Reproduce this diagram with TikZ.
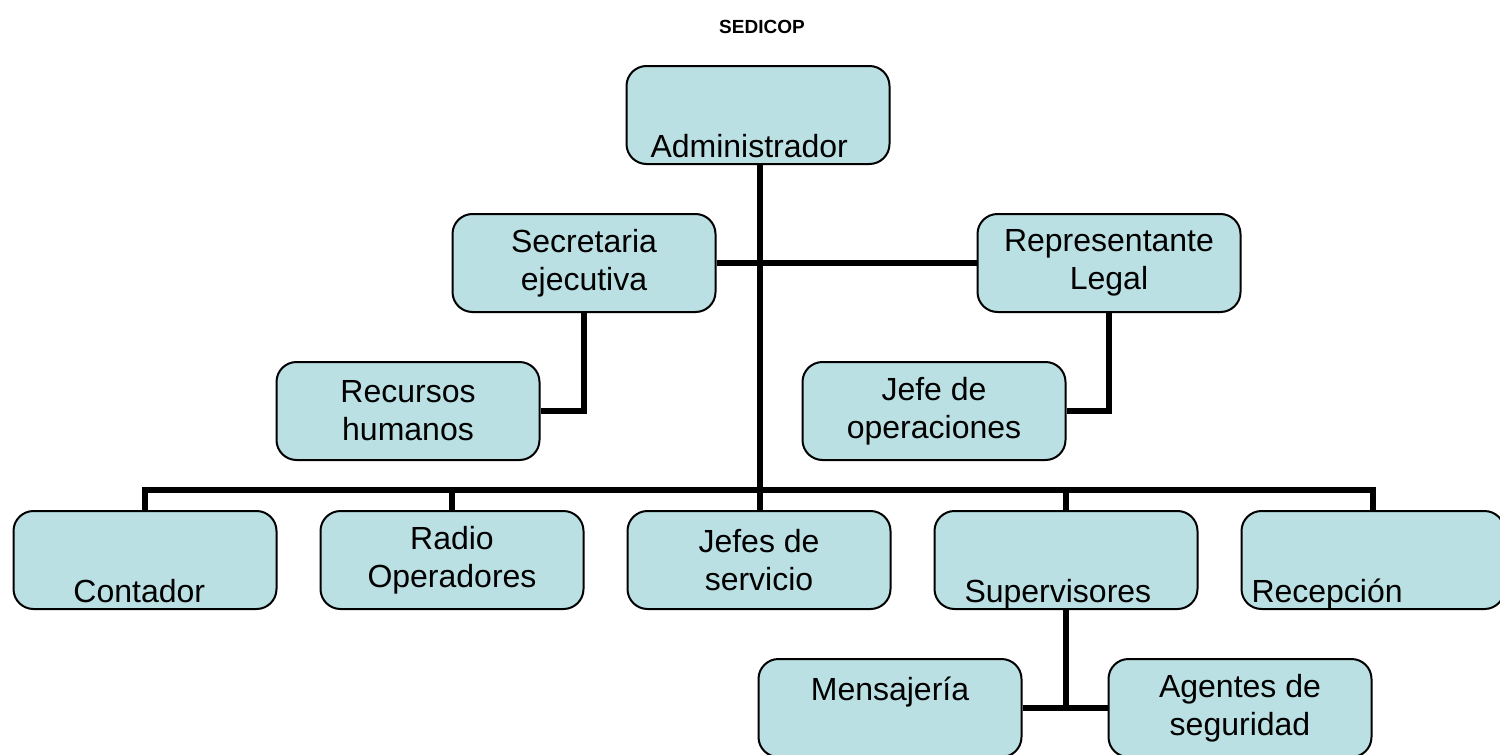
\documentclass[tikz,border=0pt]{standalone}
\usepackage{fontspec}
\setmainfont{Liberation Sans}
\usetikzlibrary{positioning}
\definecolor{cajafondo}{RGB}{186,224,227}

\begin{document}
\begin{tikzpicture}[x=0.5pt,y=-0.5pt]
  % estilos
  \tikzset{caja/.style = {draw, fill=cajafondo, rounded corners=10pt, line width=1pt,
      minimum width=131.5pt, minimum height=49pt, inner sep=0pt, align=center,
      font=\fontsize{16}{19}\selectfont}}
  \tikzset{abajo/.style = {text height=45.5pt, text depth=3pt, align=left,
      text width=127.5pt, inner xsep=2pt}}
  \tikzset{enlace/.style = {draw, line width=3pt}}

  \useasboundingbox (0,0) rectangle (1500,755);

  % titulo
  \node[font=\fontsize{9.5}{11}\selectfont\bfseries] (titulo) at (762,27) {SEDICOP};

  % cajas
  \node[caja, abajo] (admin) at (758,115) {\hspace*{10pt}Administrador};
  \node[caja] (secre) at (584,263) {Secretaria\\ejecutiva};
  \node[caja] (repre) at (1109,263) {Representante\\Legal};
  \node[caja] (recur) at (408,411) {Recursos\\humanos};
  \node[caja] (jop) at (934,411) {Jefe de\\operaciones};

  \node[caja, abajo] (conta) at (145,560) {\hspace*{28pt}Contador};
  \node[caja] (radio) at (452,560) {Radio\\Operadores};
  \node[caja] (jserv) at (759,560) {Jefes de\\servicio};
  \node[caja, abajo] (super) at (1066,560) {\hspace*{13pt}Supervisores};
  \node[caja, abajo] (recep) at (1373,560) {\hspace*{3pt}Recepci\'on};

  \node[caja] (mensa) at (890,708) {Mensajer\'ia\\~};
  \node[caja] (agent) at (1240,708) {Agentes de\\seguridad};

  % enlaces
  \coordinate (bus) at (760,490);
  \draw[enlace] (bus |- admin.south) -- (bus |- jserv.north);
  \draw[enlace] (secre.east) -- (repre.west);
  \draw[enlace] (secre.south) |- (recur.east);
  \draw[enlace] (repre.south) |- (jop.east);
  \draw[enlace] (conta.north) |- (bus) -| (recep.north);
  \draw[enlace] (radio.north) -- (radio.north |- bus);
  \draw[enlace] (super.north) -- (super.north |- bus);
  \draw[enlace] (super.south) -- (super.south |- mensa.east);
  \draw[enlace] (mensa.east) -- (agent.west);
\end{tikzpicture}
\end{document}
